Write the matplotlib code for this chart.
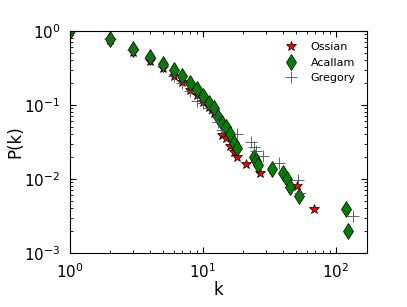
import matplotlib
matplotlib.use("Agg")
import matplotlib.pyplot as plt

# degree distributions
oss_k = [1, 2, 3, 4, 5, 6, 7, 8, 9, 10, 11, 12, 14, 15, 16, 17, 18, 21, 27, 51, 68]
oss_p = [1.0, 0.76, 0.52, 0.39, 0.316, 0.25, 0.206, 0.16, 0.137, 0.11, 0.095, 0.078,
         0.039, 0.036, 0.028, 0.0235, 0.0198, 0.016, 0.012, 0.0081, 0.0039]

aca_k = [1, 2, 3, 4, 5, 6, 7, 8, 9, 10, 11, 12, 13, 14, 15, 16, 17, 18,
         24, 25, 26, 33, 40, 43, 45, 53, 119, 123]
aca_p = [1.0, 0.78, 0.58, 0.45, 0.355, 0.297, 0.247, 0.20, 0.164, 0.132, 0.106, 0.091,
         0.069, 0.057, 0.050, 0.041, 0.031, 0.026,
         0.020, 0.0177, 0.0155, 0.0136, 0.0121, 0.0100, 0.0079, 0.0058, 0.0039, 0.0020]

gre_k = [1, 2, 3, 4, 5, 6, 7, 8, 9, 10, 11, 12, 13, 14, 18, 23, 24, 25, 28, 37, 52, 54, 133]
gre_p = [1.0, 0.78, 0.56, 0.43, 0.337, 0.246, 0.198, 0.154, 0.114, 0.106, 0.091, 0.079,
         0.0595, 0.046, 0.040, 0.032, 0.027, 0.024, 0.0205, 0.0162, 0.0098, 0.0064, 0.0032]

plt.rcParams["font.family"] = "DejaVu Sans"
fig = plt.figure(figsize=(4.07, 3.07), dpi=100)
ax = fig.add_axes([0.172, 0.176, 0.729, 0.723])

ax.plot(oss_k, oss_p, "*", color="red", markeredgecolor="k", markeredgewidth=0.5,
        markersize=7, label="Ossian")
ax.plot(aca_k, aca_p, "d", color="green", markeredgecolor="k", markeredgewidth=0.5,
        markersize=8, label="Acallam")
ax.plot(gre_k, gre_p, "+", color="0.3", markeredgewidth=0.6,
        markersize=8, label="Gregory")

ax.set_xscale("log")
ax.set_yscale("log")
ax.set_xlim(1, 170)
ax.set_ylim(1e-3, 1)
ax.set_xlabel("k", fontsize=12)
ax.set_ylabel("P(k)", fontsize=12)
ax.tick_params(which="both", direction="in", top=True, right=True, labelsize=11)
ax.tick_params(axis="x", which="major", length=4, pad=7)
ax.tick_params(axis="y", which="major", length=4, pad=7)
ax.tick_params(which="minor", length=2)
ax.xaxis.labelpad = 0
ax.yaxis.set_label_coords(-0.155, 0.5)
ax.legend(loc="upper right", frameon=False, numpoints=1, fontsize=8,
          handletextpad=0.8, borderaxespad=0.6)

fig.savefig("out.png", dpi=100)
